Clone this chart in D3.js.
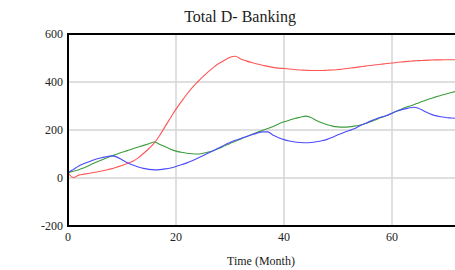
<!DOCTYPE html>
<html>
<head>
<meta charset="utf-8">
<script src="https://cdn.jsdelivr.net/npm/d3@7"></script>
<style>
  body { margin: 0; background: #fff; }
  svg { display: block; font-family: "Liberation Serif", "Times New Roman", serif; }
</style>
</head>
<body>
<div id="chart"></div>
<script>
// months 0..72
const months = d3.range(0, 73);

const xTicks = [0, 20, 40, 60];
const yTicks = [-200, 0, 200, 400, 600];

const redSeries = [
  22, 2, 12, 16, 20, 24, 28, 33, 38, 45,
  52, 60, 70, 84, 103, 123, 146, 178, 215, 251,
  287, 318, 349, 377, 400, 422, 443, 462, 478, 491,
  503, 507, 496, 488, 481, 475, 470, 465, 461, 458,
  456, 454, 452, 450, 449, 448, 448, 448, 449, 450,
  452, 454, 457, 460, 463, 466, 469, 472, 474, 477,
  479, 482, 484, 486, 488, 489, 490, 491, 492, 492,
  493, 493, 493
];

const blueSeries = [
  22, 36, 50, 60, 69, 77, 83, 88, 92, 88,
  76, 64, 54, 46, 40, 36, 34, 35, 38, 42,
  48, 55, 63, 72, 82, 93, 104, 115, 126, 138,
  148, 157, 165, 172, 180, 187, 192, 192, 178, 168,
  160, 154, 150, 148, 147, 148, 151, 155, 161, 170,
  180, 189, 197, 205, 217, 227, 237, 246, 254, 260,
  270, 279, 286, 291, 295, 290, 278, 268, 260, 255,
  252, 250, 248
];

const greenSeries = [
  22, 28, 34, 43, 53, 64, 73, 82, 91, 99,
  107, 114, 122, 129, 136, 143, 150, 140, 130, 120,
  112, 107, 103, 101, 100, 103, 108, 115, 124, 134,
  144, 153, 163, 172, 181, 190, 198, 206, 215, 225,
  234, 241, 248, 253, 258, 252, 240, 230, 222, 216,
  213, 212, 213, 216, 220, 226, 234, 243, 252, 260,
  270, 280, 290, 298, 305, 314, 322, 330, 337, 344,
  350, 356, 362
];

const series = [
  { name: 'red', values: redSeries, color: '#ff5555' },
  { name: 'green', values: greenSeries, color: '#3c9c3c' },
  { name: 'blue', values: blueSeries, color: '#4b4bff' }
];

const width = 455;
const height = 270;
const plotLeft = 68;
const plotTop = 34;
const plotBottom = 226;
const plotRight = 456.8;

const svg = d3.select('#chart')
  .append('svg')
  .attr('width', width)
  .attr('height', height);

const x = d3.scaleLinear().domain([0, 72]).range([plotLeft, plotRight]);
const y = d3.scaleLinear().domain([-200, 600]).range([plotBottom, plotTop]);

// gridlines
svg.append('g')
  .selectAll('line.hgrid')
  .data(yTicks.filter(d => d > -200 && d < 600))
  .join('line')
  .attr('x1', plotLeft).attr('x2', plotRight)
  .attr('y1', d => y(d)).attr('y2', d => y(d))
  .attr('stroke', '#d4d4d4')
  .attr('stroke-width', 1.5);

svg.append('g')
  .selectAll('line.vgrid')
  .data(xTicks.filter(d => d > 0))
  .join('line')
  .attr('x1', d => x(d)).attr('x2', d => x(d))
  .attr('y1', plotTop).attr('y2', plotBottom)
  .attr('stroke', '#d4d4d4')
  .attr('stroke-width', 1.5);

// lines
const line = d3.line()
  .x((d, i) => x(months[i]))
  .y(d => y(d))
  .curve(d3.curveMonotoneX);

svg.append('g')
  .selectAll('path')
  .data(series)
  .join('path')
  .attr('d', d => line(d.values))
  .attr('fill', 'none')
  .attr('stroke', d => d.color)
  .attr('stroke-width', 1.1);

// frame
svg.append('rect')
  .attr('x', plotLeft)
  .attr('y', plotTop)
  .attr('width', plotRight - plotLeft)
  .attr('height', plotBottom - plotTop)
  .attr('fill', 'none')
  .attr('stroke', '#000')
  .attr('stroke-width', 2);

// axes labels
svg.append('g')
  .selectAll('text')
  .data(yTicks)
  .join('text')
  .attr('x', plotLeft - 5)
  .attr('y', d => y(d))
  .attr('dy', '0.35em')
  .attr('text-anchor', 'end')
  .attr('font-size', 12)
  .attr('fill', '#222')
  .text(d => d);

svg.append('g')
  .selectAll('text')
  .data(xTicks)
  .join('text')
  .attr('x', d => x(d))
  .attr('y', 241)
  .attr('text-anchor', 'middle')
  .attr('font-size', 12)
  .attr('fill', '#222')
  .text(d => d);

svg.append('text')
  .attr('x', 261)
  .attr('y', 265)
  .attr('text-anchor', 'middle')
  .attr('font-size', 12)
  .attr('fill', '#222')
  .text('Time (Month)');

svg.append('text')
  .attr('x', 240)
  .attr('y', 22)
  .attr('text-anchor', 'middle')
  .attr('font-size', 16)
  .attr('fill', '#222')
  .text('Total D- Banking');
</script>
</body>
</html>
